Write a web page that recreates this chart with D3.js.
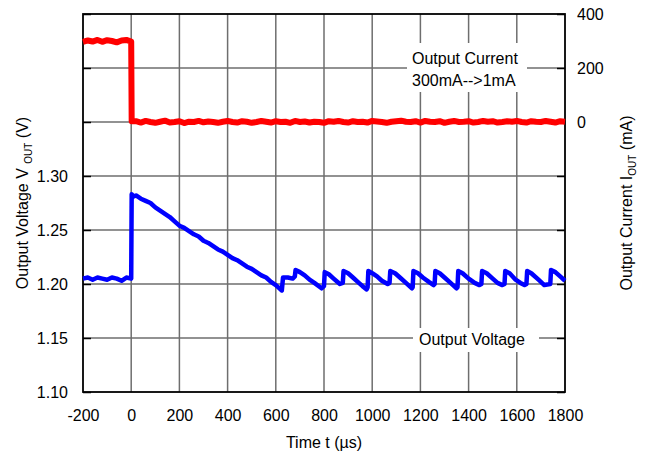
<!DOCTYPE html>
<html><head><meta charset="utf-8">
<script src="https://cdn.jsdelivr.net/npm/d3@7"></script>
<style>body{margin:0;background:#fff;} svg{display:block;font-family:"Liberation Sans",Arial,sans-serif;}</style>
</head><body><svg id="c" width="648" height="459"></svg>
<script>
// ---- data ----
const xTicks = [-200,0,200,400,600,800,1000,1200,1400,1600,1800];
const vTicks = [1.10,1.15,1.20,1.25,1.30];
const vGrid = [1.10,1.15,1.20,1.25,1.30,1.35,1.40,1.45];
const iTicks = [0,200,400];
// current before step (t=-200..0 step 20), mA
const curPre = [297,302,298,304,297,303,300,295,302,304,298];
// current after step (t=20..1800 step 20), mA
const curPost = [3,-2,4,0,-3,1,5,-2,0,3,-4,1,0,4,-1,2,0,-3,1,4,0,-2,3,1,-3,0,4,1,-2,3,0,1,-3,4,0,2,-2,1,0,-3,3,1,4,0,-2,3,0,1,-2,4,2,0,-3,1,3,5,1,0,3,-2,4,1,0,3,-3,1,4,0,1,3,-2,0,4,1,3,-2,0,3,1,4,0,-2,3,1,0,4,1,-2,3,1];
// voltage before step (t=-200..0 step 20), V
const vPre = [1.205,1.206,1.204,1.206,1.205,1.204,1.206,1.205,1.203,1.206,1.205];
// voltage after step [t(us), V]
const vPost = [[2,1.283],[10,1.281],[20,1.282],[40,1.279],[60,1.277],[80,1.275],[100,1.271],[120,1.268],[140,1.265],[160,1.262],[180,1.258],[200,1.254],[220,1.252],[240,1.249],[260,1.246],[280,1.244],[300,1.240],[320,1.238],[340,1.235],[360,1.232],[380,1.230],[400,1.227],[420,1.224],[440,1.222],[460,1.219],[480,1.216],[500,1.214],[520,1.211],[540,1.208],[560,1.206],[580,1.202],[600,1.199],[615,1.196],[625,1.194],[630,1.206],[650,1.206],[670,1.205],[679,1.207],[682,1.213],[700,1.211],[720,1.208],[740,1.204],[760,1.201],[790,1.196],[800,1.198],[803,1.211],[820,1.209],[840,1.205],[866,1.200],[878,1.201],[881,1.212],[900,1.210],[920,1.206],[940,1.202],[960,1.198],[977,1.195],[981,1.197],[984,1.212],[1000,1.210],[1020,1.207],[1040,1.203],[1064,1.200],[1072,1.201],[1075,1.212],[1095,1.210],[1115,1.206],[1140,1.201],[1165,1.196],[1168,1.197],[1171,1.212],[1190,1.210],[1210,1.206],[1235,1.202],[1255,1.199],[1259,1.200],[1262,1.212],[1280,1.210],[1300,1.206],[1325,1.201],[1350,1.196],[1354,1.197],[1357,1.212],[1375,1.210],[1400,1.205],[1425,1.201],[1445,1.199],[1453,1.200],[1456,1.212],[1475,1.210],[1500,1.205],[1520,1.201],[1540,1.199],[1549,1.200],[1552,1.212],[1570,1.210],[1595,1.204],[1615,1.201],[1632,1.199],[1640,1.200],[1643,1.212],[1660,1.210],[1690,1.204],[1714,1.199],[1739,1.200],[1742,1.213],[1760,1.211],[1780,1.207],[1800,1.203]];

// ---- chart ----
const svg = d3.select("#c");
const L=83, R=565, T=14, B=392;
const FONT = "Liberation Sans, Arial, sans-serif";
const x = d3.scaleLinear().domain([-200,1800]).range([L,R]);
const yV = d3.scaleLinear().domain([1.10,1.45]).range([B,T]);
const yI = d3.scaleLinear().domain([-1000,400]).range([B,T]);

const curData = curPre.map((v,i)=>[-200+20*i,v]).concat([[2,curPost[0]]]).concat(curPost.map((v,i)=>[20*(i+1),v]));
const vData = vPre.map((v,i)=>[-200+20*i,v]).concat(vPost);

// grid
const g = svg.append("g");
g.selectAll(".vg").data(xTicks.slice(1,-1)).join("line")
  .attr("x1",d=>x(d)).attr("x2",d=>x(d)).attr("y1",T).attr("y2",B)
  .attr("stroke","#6e6e6e").attr("stroke-width",1.5);
g.selectAll(".hg").data(vGrid.slice(1,-1)).join("line")
  .attr("x1",L).attr("x2",R).attr("y1",d=>yV(d)).attr("y2",d=>yV(d))
  .attr("stroke","#6e6e6e").attr("stroke-width",1.5);

// label backgrounds
svg.append("rect").attr("x",407).attr("y",43).attr("width",120).attr("height",49).attr("fill","#fff");
svg.append("rect").attr("x",413).attr("y",328).attr("width",126).attr("height",24).attr("fill","#fff");

// axes
const fs = "16px";
const ax = svg.append("g").attr("transform",`translate(0,${B})`)
  .call(d3.axisBottom(x).tickValues(xTicks).tickSize(0).tickPadding(18).tickFormat(d=>String(d)));
ax.select(".domain").remove();
ax.selectAll("text").attr("font-size",fs).attr("fill","#000").attr("font-family",FONT);

const ayl = svg.append("g").attr("transform",`translate(${L},0)`)
  .call(d3.axisLeft(yV).tickValues(vGrid).tickSize(-8).tickPadding(15).tickFormat(d=>vTicks.some(t=>Math.abs(t-d)<1e-9)?d3.format(".2f")(d):""));
ayl.select(".domain").remove();
ayl.selectAll("line").attr("stroke","#000").attr("stroke-width",1.5);
ayl.selectAll("text").attr("font-size",fs).attr("fill","#000").attr("font-family",FONT);

const ayr = svg.append("g").attr("transform",`translate(${R},0)`)
  .call(d3.axisRight(yI).tickValues([-1000,-800,-600,-400,-200,0,200,400]).tickSize(-8).tickPadding(12).tickFormat(d=>iTicks.includes(d)?String(d):""));
ayr.select(".domain").remove();
ayr.selectAll("line").attr("stroke","#000").attr("stroke-width",1.5);
ayr.selectAll("text").attr("font-size",fs).attr("fill","#000").attr("font-family",FONT);

// frame
svg.append("rect").attr("x",L).attr("y",T).attr("width",R-L).attr("height",B-T)
  .attr("fill","none").attr("stroke","#000").attr("stroke-width",1.8);

// lines
svg.append("path").datum(curData)
  .attr("d",d3.line().x(d=>x(d[0])).y(d=>yI(d[1])))
  .attr("fill","none").attr("stroke","#ff0000").attr("stroke-width",6).attr("stroke-linejoin","round");
svg.append("path").datum(vData)
  .attr("d",d3.line().x(d=>x(d[0])).y(d=>yV(d[1])))
  .attr("fill","none").attr("stroke","#0000ff").attr("stroke-width",4.5).attr("stroke-linejoin","round");

// annotations
const txt = (x0,y0,s,anchor)=>svg.append("text").attr("x",x0).attr("y",y0).attr("font-size",fs).attr("font-family",FONT).attr("text-anchor",anchor||"start").text(s);
txt(412,64,"Output Current");
txt(412,86,"300mA-->1mA");
txt(419,345,"Output Voltage");
txt(324,448,"Time t (µs)","middle");

// y titles
const lt = svg.append("text").attr("transform","translate(28,203) rotate(-90)").attr("text-anchor","middle").attr("font-size",fs).attr("font-family",FONT);
lt.append("tspan").text("Output Voltage V ");
lt.append("tspan").attr("font-size","10px").attr("dy",4).text("OUT");
lt.append("tspan").attr("dy",-4).text(" (V)");
const rt = svg.append("text").attr("transform","translate(632,203) rotate(-90)").attr("text-anchor","middle").attr("font-size",fs).attr("font-family",FONT);
rt.append("tspan").text("Output Current I");
rt.append("tspan").attr("font-size","10px").attr("dy",4).text("OUT");
rt.append("tspan").attr("dy",-4).text(" (mA)");
</script></body></html>
